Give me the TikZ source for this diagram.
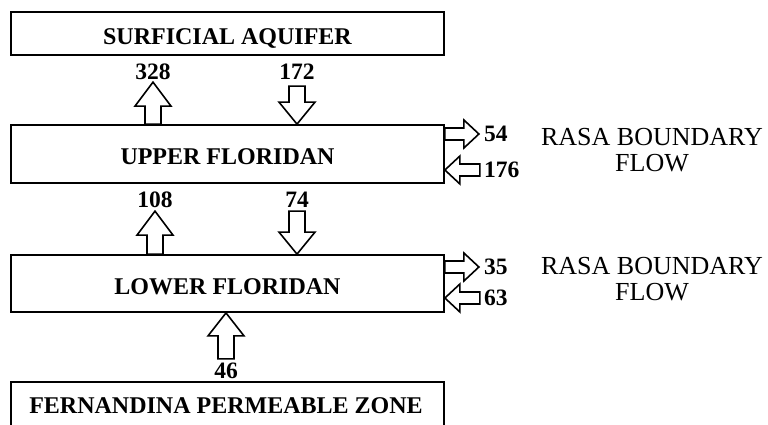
\documentclass[tikz,border=0pt]{standalone}
\usepackage{fontspec}
\setmainfont{Liberation Serif}
\usetikzlibrary{calc}
\tikzset{
  box/.style={draw, line width=1.8pt, minimum width=433pt, inner sep=0pt, text height=21pt, text depth=0pt, font=\fontsize{24}{27}\selectfont\bfseries},
  num/.style={inner sep=0pt, font=\fontsize{23.5}{26}\selectfont\bfseries},
  rasa/.style={inner sep=0pt, align=center, font=\fontsize{26}{26}\selectfont},
  arrowline/.style={draw=black, fill=white, line width=1.6pt, line join=miter}
}
% tail point, angle, length, shaft half width, head half width, head length
\newcommand\fatarrow[6]{%
  \draw[arrowline, shift={#1}, rotate=#2]
    (0,-#4) -- ({#3-#6},-#4) -- ({#3-#6},-#5) -- (#3,0) -- ({#3-#6},#5)
    -- ({#3-#6},#4) -- (0,#4) -- cycle;}
\begin{document}
\begin{tikzpicture}[x=1pt,y=1pt]
\useasboundingbox (0,-424) rectangle (768,0);
% boxes
\node[box, minimum height=43pt] (surf) at (227.5,-33.5) {SURFICIAL AQUIFER};
\node[box, minimum height=58pt] (upper) at (227.5,-154) {UPPER FLORIDAN};
\node[box, minimum height=57pt] (lower) at (227.5,-283.5) {LOWER FLORIDAN};
\draw[line width=1.8pt] (11,-440) -- (11,-382) coordinate (fz) -- (444,-382) -- (444,-440);
\node[font=\fontsize{24}{27}\selectfont\bfseries, inner sep=0pt] (fern) at (226,-406) {FERNANDINA PERMEABLE ZONE};
% vertical labels
\node[num] (n328) at (153,-72) {328};
\node[num] (n172) at (297,-72) {172};
\node[num] (n108) at (155,-200) {108};
\node[num] (n74)  at (297,-200) {74};
\node[num] (n46)  at (226,-371) {46};
% side labels
\node[num, anchor=west] (n54)  at (484,-134) {54};
\node[num, anchor=west] (n176) at (484,-170) {176};
\node[num, anchor=west] (n35)  at (484,-267) {35};
\node[num, anchor=west] (n63)  at (484,-298) {63};
% RASA labels
\node[rasa] (rasa1) at (652,-150) {RASA BOUNDARY\\FLOW};
\node[rasa] (rasa2) at (652,-279) {RASA BOUNDARY\\FLOW};
% vertical arrows
\fatarrow{(upper.north -| n328)}{90}{42}{8}{18}{24}
\fatarrow{($(upper.north -| n172)+(0,38)$)}{-90}{38}{8}{18}{22}
\fatarrow{(lower.north -| n108)}{90}{43}{8}{18}{24}
\fatarrow{($(lower.north -| n74)+(0,43)$)}{-90}{43}{8}{18}{22}
\fatarrow{($(lower.south -| n46)+(0,-46)$)}{90}{46}{8}{18}{23}
% side arrows
\fatarrow{(upper.east |- n54)}{0}{34}{6}{14}{15}
\fatarrow{($(upper.east |- n176)+(35,0)$)}{180}{35}{6}{14}{15}
\fatarrow{(lower.east |- n35)}{0}{34}{6}{14}{15}
\fatarrow{($(lower.east |- n63)+(35,0)$)}{180}{35}{6}{14}{15}
\end{tikzpicture}
\end{document}
